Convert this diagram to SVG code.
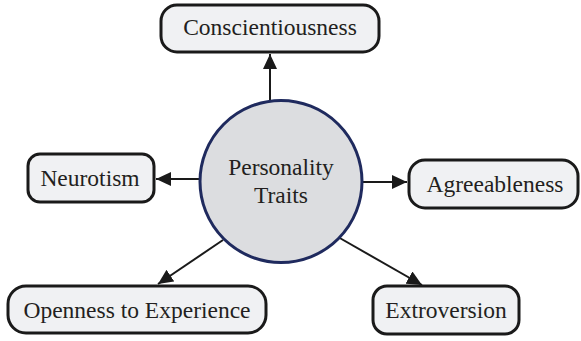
<svg xmlns="http://www.w3.org/2000/svg" width="581" height="341" viewBox="0 0 581 341">
<style>
.box{fill:#f0f1f3;stroke:#1a1a1a;stroke-width:3}
.lbl{font-family:"Liberation Serif","Times New Roman",serif;font-size:23.5px;fill:#231f20;text-anchor:middle}
.edge{stroke:#1a1a1a;stroke-width:2;fill:none;marker-end:url(#ah)}
</style>
<defs>
<marker id="ah" markerUnits="userSpaceOnUse" markerWidth="16" markerHeight="14" refX="15" refY="7" orient="auto">
<path d="M0,0 L15,7 L0,14 Z" fill="#1a1a1a"/>
</marker>
</defs>
<rect width="581" height="341" fill="#ffffff"/>
<g id="connectors">
<line class="edge" x1="270" y1="101" x2="270" y2="54"/>
<line class="edge" x1="362" y1="182" x2="407" y2="182"/>
<line class="edge" x1="200" y1="179" x2="156" y2="179"/>
<line class="edge" x1="338" y1="237" x2="422" y2="285"/>
<line class="edge" x1="223" y1="240" x2="158" y2="284"/>
</g>
<g id="center">
<circle cx="281" cy="181.5" r="81" fill="#dcdde0" stroke="#1f2a5e" stroke-width="3"/>
<text class="lbl" x="281" y="175">Personality</text>
<text class="lbl" x="281" y="203">Traits</text>
</g>
<g id="conscientiousness">
<rect class="box" x="161" y="5" width="218" height="47" rx="16"/>
<text class="lbl" x="270" y="35">Conscientiousness</text>
</g>
<g id="agreeableness">
<rect class="box" x="409" y="160" width="169" height="48" rx="16"/>
<text class="lbl" x="495" y="192">Agreeableness</text>
</g>
<g id="neurotism">
<rect class="box" x="28" y="154" width="126" height="48" rx="12"/>
<text class="lbl" x="90" y="186">Neurotism</text>
</g>
<g id="openness">
<rect class="box" x="8" y="286" width="258" height="47" rx="18"/>
<text class="lbl" x="137" y="318">Openness to Experience</text>
</g>
<g id="extroversion">
<rect class="box" x="373" y="286" width="146" height="48" rx="14"/>
<text class="lbl" x="446" y="318">Extroversion</text>
</g>
</svg>
